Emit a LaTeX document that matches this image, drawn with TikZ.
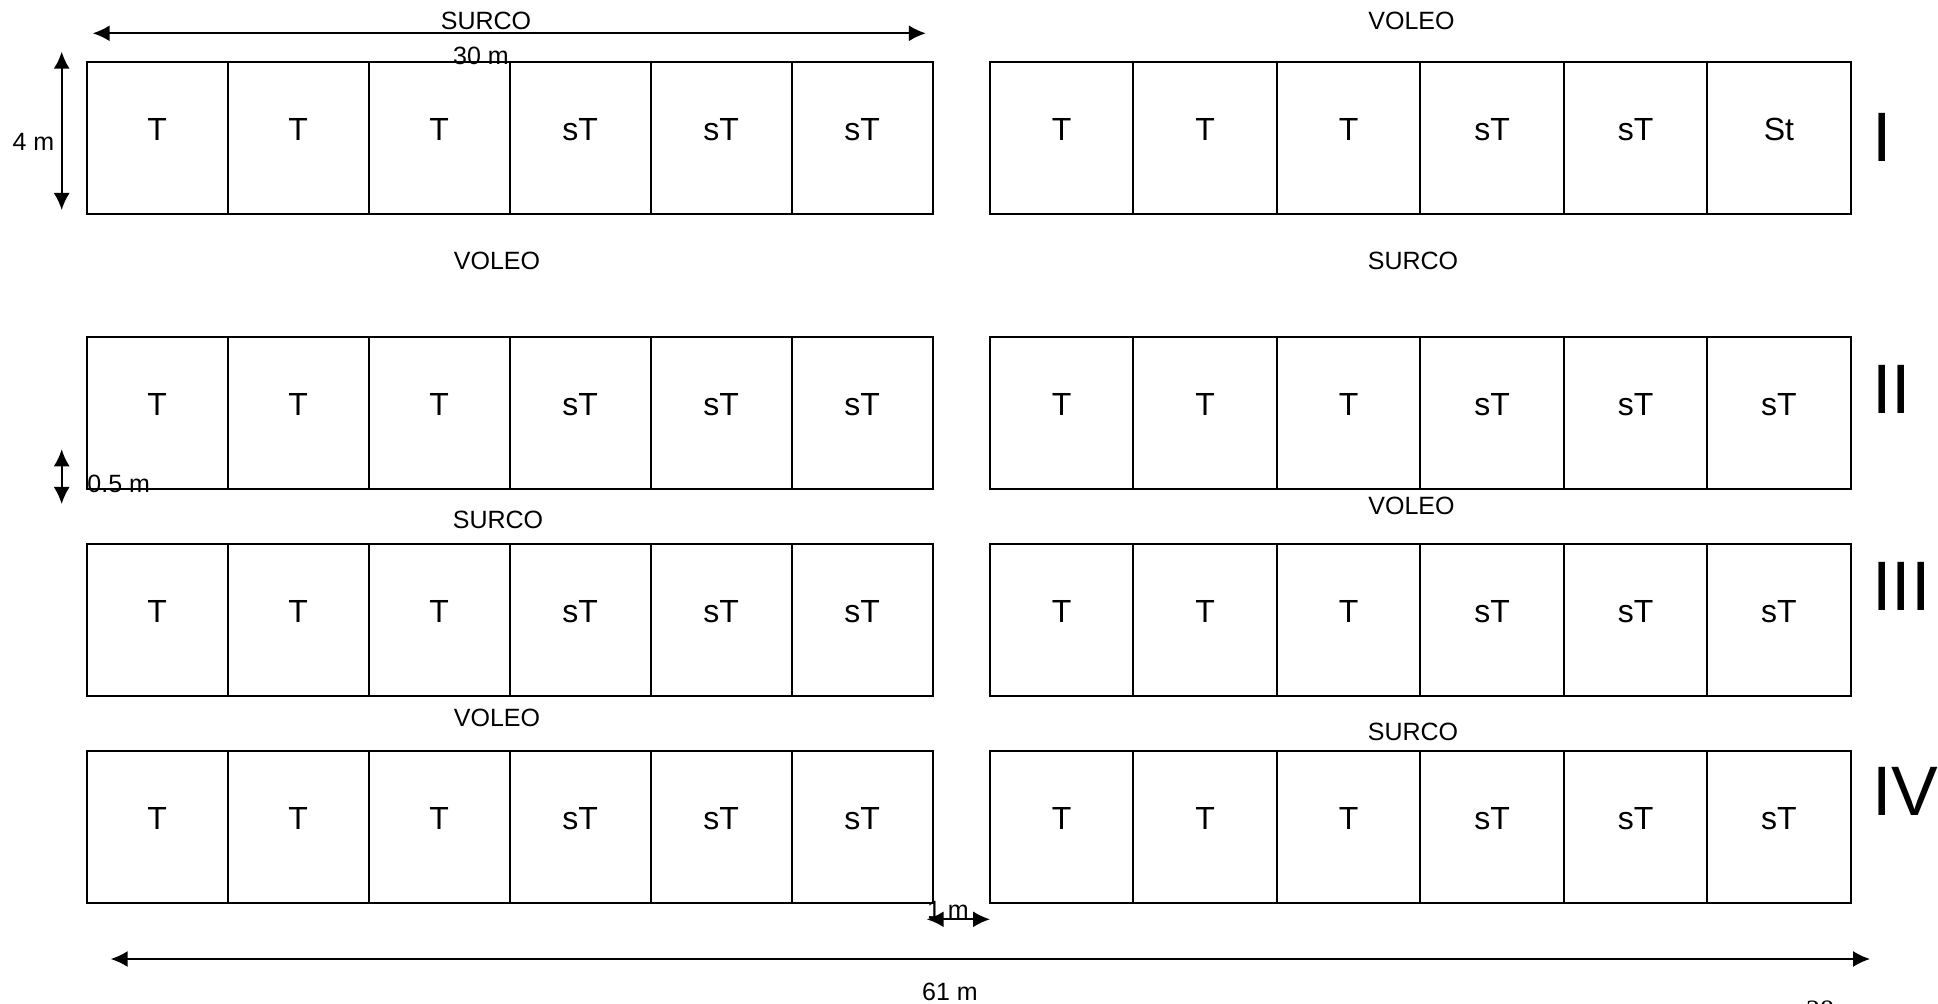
\documentclass[tikz,border=0pt]{standalone}
\usepackage{fontspec}
\setmainfont{Liberation Sans}
\newfontfamily\pagefont{Liberation Serif}
\usetikzlibrary{arrows.meta}

\begin{document}
\begin{tikzpicture}[
        x=0.5pt, y=-0.5pt,
        every node/.style={font=\fontsize{12.5}{14}\selectfont, inner sep=0pt},
        cell/.style={rectangle, draw=black, line width=1pt, minimum height=76pt, font=\fontsize{16}{18}\selectfont, text height=12pt, text depth=9.5pt},
        rep/.style={anchor=north west, font=\fontsize{35}{40}\selectfont},
        arr/.style={{Latex[length=8.5pt, width=8pt]}-{Latex[length=8.5pt, width=8pt]}, line width=0.9pt}
    ]
    \useasboundingbox (0,0) rectangle (1938,1004);
    % plots: left block and right block, four replicates
    \foreach \row/\ytop/\lab in {1/62.3/St, 2/337.3/sT, 3/544/sT, 4/750.7/sT} {
        \foreach \col/\txt in {1/T, 2/T, 3/T, 4/sT, 5/sT, 6/sT}
            \node[cell, minimum width=70.5pt] (L\row\col) at ({86.7+141*(\col-0.5)}, \ytop+76) {\txt};
        \foreach \col/\txt in {1/T, 2/T, 3/T, 4/sT, 5/sT, 6/\lab}
            \node[cell, minimum width=71.7pt] (R\row\col) at ({990+143.45*(\col-0.5)}, \ytop+76) {\txt};
    }
    % replicates
    \node[rep] (repI)   at (1872, 113) {I};
    \node[rep] (repII)  at (1872, 365) {II};
    \node[rep] (repIII) at (1872, 562) {III};
    \node[rep] (repIV)  at (1872, 767) {IV};
    % sowing method
    \node (surcoA) at (486, 21)      {SURCO};
    \node (voleoA) at (1411.5, 21)   {VOLEO};
    \node (voleoB) at (497, 260.8)   {VOLEO};
    \node (surcoB) at (1413, 260.8)  {SURCO};
    \node (surcoC) at (498, 520)     {SURCO};
    \node (voleoC) at (1411.5, 505.5) {VOLEO};
    \node (voleoD) at (497, 718)     {VOLEO};
    \node (surcoD) at (1413, 731.7)  {SURCO};
    % dimensions
    \node (dimA) at (481, 55.6)  {30 m};
    \node (dimH) at (33.4, 142)  {4 m};
    \node[anchor=west] (dimS) at (87, 484) {0.5 m};
    \node (dimG) at (948, 910)   {1 m};
    \node (dimT) at (950, 991.7) {61 m};
    \node[anchor=north, font=\pagefont\fontsize{14}{16}\selectfont] (page) at (1820, 1000) {28};
    \coordinate (a1) at (92.7, 33.3);  \coordinate (a2) at (925.8, 33.3);
    \coordinate (h1) at (61.7, 51.7);  \coordinate (h2) at (61.7, 210);
    \coordinate (s1) at (61.7, 449.3); \coordinate (s2) at (61.7, 504);
    \coordinate (g1) at (926.7, 919.3); \coordinate (g2) at (990, 919.3);
    \coordinate (t1) at (110.7, 959);  \coordinate (t2) at (1870, 959);
    \draw[arr] (a1) -- (a2);
    \draw[arr] (h1) -- (h2);
    \draw[arr] (s1) -- (s2);
    \draw[arr] (g1) -- (g2);
    \draw[arr] (t1) -- (t2);
\end{tikzpicture}
\end{document}
